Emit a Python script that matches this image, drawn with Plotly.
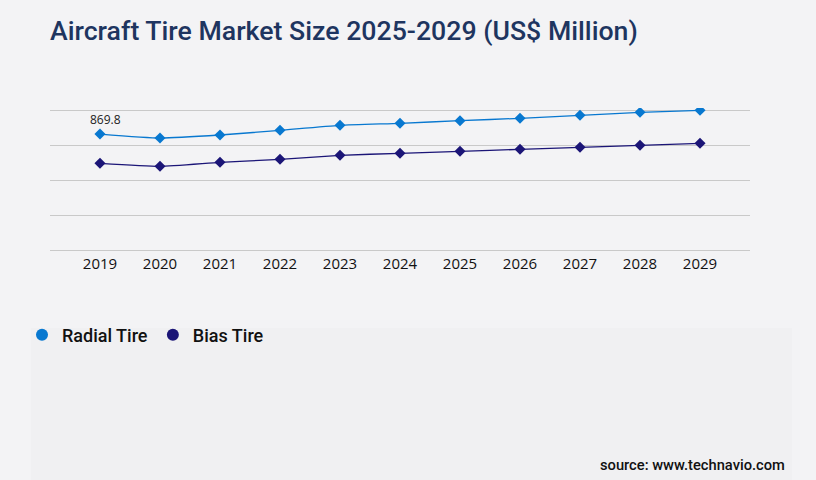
import plotly.graph_objects as go

years = ["2019", "2020", "2021", "2022", "2023", "2024", "2025", "2026", "2027", "2028", "2029"]
radial_tire = [869.8, 840, 862.5, 897.5, 935, 950, 970, 987.5, 1010, 1032.5, 1047.5]
bias_tire = [650, 627.5, 657.5, 680, 710, 725, 740, 755, 770, 785, 800]

radial_color = "#0878d0"
bias_color = "#1b1577"
bg_color = "#f3f3f5"

fig = go.Figure()

# data lines (legend drawn with round markers below)
fig.add_trace(go.Scatter(x=years, y=radial_tire, mode="lines+markers", name="Radial Tire",
                         line=dict(color=radial_color, width=1.3, shape="spline", smoothing=0.5),
                         marker=dict(symbol="diamond", size=8.5, color=radial_color),
                         showlegend=False))
fig.add_trace(go.Scatter(x=years, y=bias_tire, mode="lines+markers", name="Bias Tire",
                         line=dict(color=bias_color, width=1.3, shape="spline", smoothing=0.5),
                         marker=dict(symbol="diamond", size=8.5, color=bias_color),
                         showlegend=False))

# legend entries
fig.add_trace(go.Scatter(x=[None], y=[None], mode="markers", name="Radial Tire",
                         marker=dict(symbol="circle", size=12, color=radial_color)))
fig.add_trace(go.Scatter(x=[None], y=[None], mode="markers", name="Bias Tire",
                         marker=dict(symbol="circle", size=12, color=bias_color)))

# first value label (category axis -> index position)
fig.add_annotation(x=0, y=radial_tire[0], text=f"{radial_tire[0]}", showarrow=False,
                   yshift=15, xshift=6, font=dict(family="Open Sans", size=12, color="#222222"))

# source
fig.add_annotation(xref="paper", yref="paper", x=1.053, y=-1.479, xanchor="right", yanchor="middle",
                   text="source: www.technavio.com", showarrow=False,
                   font=dict(family="Roboto", size=14.7, color="#111111", weight=500))

# slightly darker lower panel
fig.add_shape(type="rect", xref="paper", yref="paper", x0=-0.0271, x1=1.06, y0=-1.7, y1=-0.528,
              fillcolor="#f0f0f2", line_width=0, layer="below")

fig.update_layout(
    width=816, height=480,
    paper_bgcolor=bg_color, plot_bgcolor=bg_color,
    margin=dict(l=50, r=66, t=108, b=228),
    title=dict(text="Aircraft Tire Market Size 2025-2029 (US$ Million)",
               x=50 / 816, xref="container", xanchor="left",
               y=1 - 31 / 480, yref="container", yanchor="middle",
               font=dict(family="Roboto", size=26.7, color="#1e3560", weight=500)),
    xaxis=dict(type="category", range=[-0.833, 10.833], showgrid=False, zeroline=False,
               showline=False, ticks="", ticklabelstandoff=1,
               tickfont=dict(family="Open Sans", size=15, color="#111111")),
    yaxis=dict(range=[-15, 1065], tick0=0, dtick=262.5, showgrid=True, gridcolor="#c9c9c9",
               gridwidth=1, zeroline=False, showticklabels=False, showline=False),
    legend=dict(orientation="h", x=-0.04, xanchor="left", y=-0.576, yanchor="middle",
                font=dict(family="Roboto", size=18, color="#111111", weight=500),
                bgcolor="rgba(0,0,0,0)", itemwidth=30, tracegroupgap=0),
    showlegend=True,
)

fig.write_html("out.html", config={"displayModeBar": False},
               post_script="document.body.style.margin='0';")
